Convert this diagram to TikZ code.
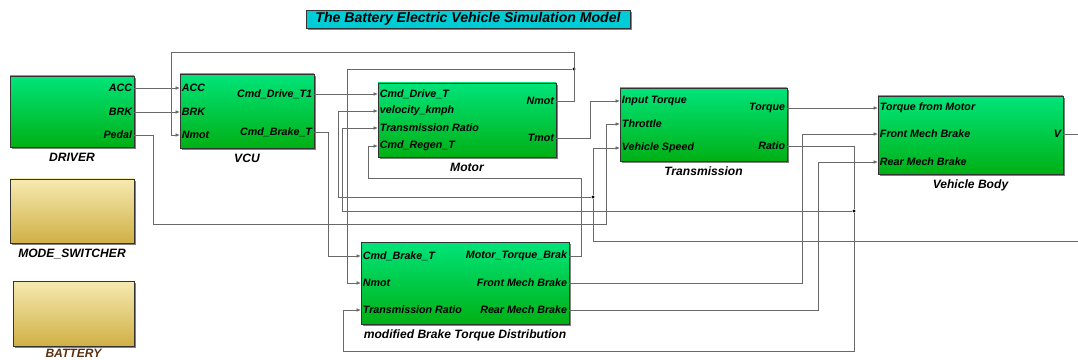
\documentclass[tikz,border=0pt]{standalone}
\usepackage{fontspec}
\setmainfont{Liberation Sans}
\usetikzlibrary{positioning,arrows.meta,fit,shadows}
\definecolor{blktop}{RGB}{0,228,122}
\definecolor{blkbot}{RGB}{0,176,20}
\definecolor{ylwtop}{RGB}{246,234,176}
\definecolor{ylwbot}{RGB}{208,176,70}
\definecolor{ttlbg}{RGB}{0,204,214}
\definecolor{wiregray}{RGB}{105,105,105}
\definecolor{batbrown}{RGB}{92,48,16}

\begin{document}
\begin{tikzpicture}[x=0.025cm,y=-0.025cm,>={Latex[length=3.2pt,width=2.6pt]},
  every node/.style={font=\fontsize{7.6}{9}\selectfont\bfseries\itshape},
  blk/.style={draw=black!80,line width=0.4pt,top color=blktop,bottom color=blkbot,inner sep=0pt,
    drop shadow={shadow xshift=1.3pt,shadow yshift=-1.3pt,fill=black!70,opacity=.7}},
  ylw/.style={blk,top color=ylwtop,bottom color=ylwbot},
  inp/.style={anchor=west,inner xsep=1.2pt,inner ysep=0pt},
  outp/.style={anchor=east,inner xsep=1.2pt,inner ysep=0pt},
  lbl/.style={font=\fontsize{8.6}{10}\selectfont\bfseries\itshape,inner sep=0pt},
  wire/.style={draw=wiregray,line width=0.55pt},
  jct/.style={circle,fill=black,inner sep=0pt,minimum size=2.2pt}]
  \useasboundingbox (0,0) rectangle (1078,360);

  % title
  \node[draw=black!80,fill=ttlbg,minimum width=8.1cm,minimum height=0.45cm,inner sep=0pt,
    font=\fontsize{10}{12}\selectfont\bfseries\itshape,
    drop shadow={shadow xshift=1.3pt,shadow yshift=-1.3pt,fill=black!70,opacity=.7}]
    (title) at (468,19) {The Battery Electric Vehicle Simulation Model};

  % blocks
  \node[blk,fit={(10,76) (134,147)}] (driver) {};
  \node[ylw,fit={(10,179) (134,243)}] (modesw) {};
  \node[ylw,fit={(13,281) (134,346)}] (battery) {};
  \node[blk,fit={(180,74) (314,148)}] (vcu) {};
  \node[blk,fit={(378,83) (556,157)}] (motor) {};
  \node[blk,fit={(620,88) (787,161)}] (trans) {};
  \node[blk,fit={(878,96) (1063,174)}] (body) {};
  \node[blk,fit={(361,242) (569,324)}] (brake) {};

  \node[lbl,below=4pt of driver] (driverlbl) {DRIVER};
  \node[lbl,below=4pt of modesw] (modeswlbl) {MODE\_SWITCHER};
  \node[lbl,below=2pt of battery,text=batbrown] (batterylbl) {BATTERY};
  \node[lbl,below=4pt of vcu] (vculbl) {VCU};
  \node[lbl,below=4pt of motor] (motorlbl) {Motor};
  \node[lbl,below=4pt of trans] (translbl) {Transmission};
  \node[lbl,below=4pt of body] (bodylbl) {Vehicle Body};
  \node[lbl,below=4pt of brake] (brakelbl) {modified Brake Torque Distribution};

  % ports
  \node[outp] (drvAcc) at (134,88) {ACC};
  \node[outp] (drvBrk) at (134,112) {BRK};
  \node[outp] (drvPedal) at (134,135) {Pedal};

  \node[inp] (vcuAcc) at (180,88) {ACC};
  \node[inp] (vcuBrk) at (180,112) {BRK};
  \node[inp] (vcuNmot) at (180,135) {Nmot};
  \node[outp] (vcuDrive) at (314,94) {Cmd\_Drive\_T1};
  \node[outp] (vcuBrake) at (314,132) {Cmd\_Brake\_T};

  \node[inp] (motDrive) at (378,94) {Cmd\_Drive\_T};
  \node[inp] (motVel) at (378,111) {velocity\_kmph};
  \node[inp] (motTR) at (378,128) {Transmission Ratio};
  \node[inp] (motRegen) at (378,146) {Cmd\_Regen\_T};
  \node[outp] (motNmot) at (556,101) {Nmot};
  \node[outp] (motTmot) at (556,138) {Tmot};

  \node[inp] (trIn) at (620,101) {Input Torque};
  \node[inp] (trThr) at (620,124) {Throttle};
  \node[inp] (trSpd) at (620,148) {Vehicle Speed};
  \node[outp] (trTorque) at (787,108) {Torque};
  \node[outp] (trRatio) at (787,146) {Ratio};

  \node[inp] (bodyTorque) at (878,108) {Torque from Motor};
  \node[inp] (bodyFront) at (878,134) {Front Mech Brake};
  \node[inp] (bodyRear) at (878,162) {Rear Mech Brake};
  \node[outp] (bodyV) at (1063,134) {V};

  \node[inp] (brkCmd) at (361,256) {Cmd\_Brake\_T};
  \node[inp] (brkNmot) at (361,283) {Nmot};
  \node[inp] (brkTR) at (361,310) {Transmission Ratio};
  \node[outp] (brkMTB) at (569,256) {Motor\_Torque\_Brak};
  \node[outp] (brkFront) at (569,283) {Front Mech Brake};
  \node[outp] (brkRear) at (569,310) {Rear Mech Brake};

  % branch points and open ends
  \node[jct] (nmotDot) at (574,69) {};
  \node[jct] (spdDot) at (593,197) {};
  \node[jct] (ratioDot) at (854,211) {};
  \coordinate (vOut) at (1078,134);
  \coordinate (vIn) at (1078,241);

  % connections
  \draw[wire,->] (drvAcc.east) -- (vcuAcc.west);
  \draw[wire,->] (drvBrk.east) -- (vcuBrk.west);
  \draw[wire,->] (drvPedal.east) -| (153,224) -| (606,124) -- (trThr.west);
  \draw[wire,->] (vcuDrive.east) -- (motDrive.west);
  \draw[wire,->] (vcuBrake.east) -| (328,256) -- (brkCmd.west);
  \draw[wire,->] (motNmot.east) -| (574,52) -| (171,135) -- (vcuNmot.west);
  \draw[wire,->] (nmotDot) -| (347,283) -- (brkNmot.west);
  \draw[wire,->] (motTmot.east) -| (590,101) -- (trIn.west);
  \draw[wire,->] (brkMTB.east) -| (581,178) -| (368,146) -- (motRegen.west);
  \draw[wire,->] (trTorque.east) -- (bodyTorque.west);
  \draw[wire] (trRatio.east) -| (ratioDot);
  \draw[wire,->] (ratioDot) -| (342,128) -- (motTR.west);
  \draw[wire,->] (ratioDot) -- (854,351) -| (343,310) -- (brkTR.west);
  \draw[wire,->] (brkFront.east) -| (802,134) -- (bodyFront.west);
  \draw[wire,->] (brkRear.east) -| (818,162) -- (bodyRear.west);
  \draw[wire] (bodyV.east) -- (vOut);
  \draw[wire] (vIn) -| (spdDot);
  \draw[wire,->] (spdDot) -| (338,111) -- (motVel.west);
  \draw[wire,->] (spdDot) |- (trSpd.west);
\end{tikzpicture}
\end{document}
